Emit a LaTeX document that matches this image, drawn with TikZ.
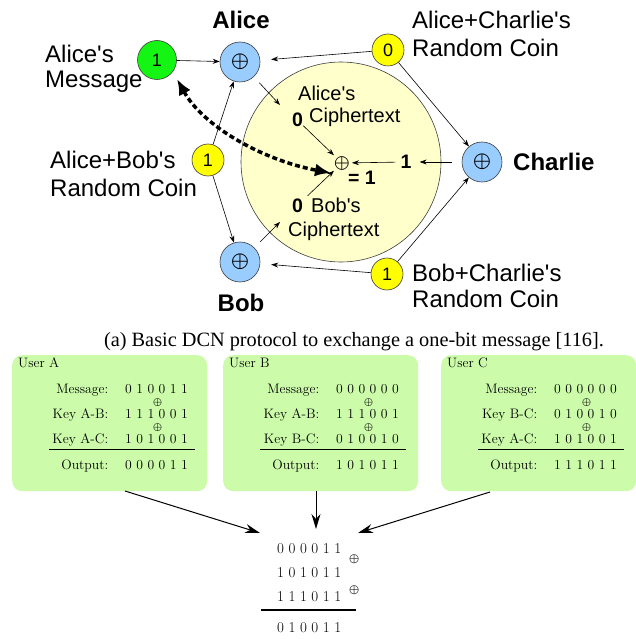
\documentclass[tikz,border=0pt]{standalone}
\usepackage{fontspec}
\usepackage{unicode-math}
\setmathfont{Latin Modern Math}
\usetikzlibrary{arrows.meta}
\newfontfamily\arialf{Liberation Sans}
\newfontfamily\timesf{Liberation Serif}
\definecolor{boxgreen}{RGB}{204,252,170}
\definecolor{nodeblue}{RGB}{153,204,255}
\definecolor{msggreen}{RGB}{20,245,20}
\definecolor{coinyellow}{RGB}{255,255,0}
\definecolor{paleyellow}{RGB}{255,255,204}
\definecolor{edgegray}{RGB}{60,60,60}
\newcommand\userbox[9]{%
  \node[ubox, anchor=north west] (#1) at (#2,355) {};
  \node[btext, anchor=base west] (#1-u) at (#2+6,367) {#3};
  \node[btext, anchor=base east] (#1-l1) at (#2+96.5,393.5) {Message:};
  \node[btext, anchor=base east] (#1-l2) at (#2+96.5,418.5) {#4};
  \node[btext, anchor=base east] (#1-l3) at (#2+96.5,443.5) {#5};
  \node[btext, anchor=base east] (#1-l4) at (#2+96.5,469.5) {Output:};
  \node[btext, anchor=base west] (#1-b1) at (#2+113,393.5) {#6};
  \node[btext, anchor=base west] (#1-b2) at (#2+113,418.5) {#7};
  \node[btext, anchor=base west] (#1-b3) at (#2+113,443.5) {#8};
  \node[btext, anchor=base west] (#1-b4) at (#2+113,469.5) {#9};
  \node[bxor] (#1-x1) at (#2+146,402.5) {$\oplus$};
  \node[bxor] (#1-x2) at (#2+146,427.5) {$\oplus$};
  \draw[line width=1.1pt] (#2+37,449.5) -- (#2+183,449.5);
}
\begin{document}
\begin{tikzpicture}[x=1pt,y=-1pt,
  party/.style={circle,draw=edgegray,line width=0.6pt,fill=nodeblue,minimum size=40pt,inner sep=0pt,font=\fontsize{23}{23}\selectfont},
  coin/.style={circle,draw=edgegray,line width=0.6pt,fill=coinyellow,minimum size=32pt,inner sep=0pt,font=\arialf\fontsize{18}{18}\selectfont},
  msgnode/.style={circle,draw=edgegray,line width=0.6pt,fill=msggreen,minimum size=39pt,inner sep=0pt,font=\arialf\fontsize{18}{18}\selectfont},
  lbl/.style={font=\arialf\fontsize{24}{24}\selectfont, anchor=base west, inner sep=0pt},
  blbl/.style={font=\arialf\bfseries\fontsize{24}{24}\selectfont, inner sep=0pt},
  ilbl/.style={font=\arialf\fontsize{20}{20}\selectfont, anchor=base west, inner sep=0pt},
  ibold/.style={font=\arialf\bfseries\fontsize{19.5}{19.5}\selectfont, inner sep=0pt},
  thinarr/.style={-{Stealth[length=7pt,width=5pt]}, line width=0.6pt},
  bigarr/.style={-{Stealth[length=15pt,width=9pt]}, line width=1pt},
  ubox/.style={fill=boxgreen, rounded corners=10pt, minimum width=195pt, minimum height=136pt, inner sep=0pt},
  btext/.style={font=\fontsize{13.7}{16}\selectfont, inner sep=0pt},
  bxor/.style={font=\fontsize{11.5}{12}\selectfont, inner sep=0pt},
  rtext/.style={font=\fontsize{15}{18}\selectfont, inner sep=0pt, anchor=base west},
]
\useasboundingbox (0,0) rectangle (636,639);

% ---------- top part ----------
\node[circle, draw=edgegray, line width=0.6pt, fill=paleyellow, minimum size=200pt, inner sep=0pt] (big) at (341,162) {};

\node[msgnode] (msg) at (157,60) {1};
\node[party] (alice) at (240,62) {$\oplus$};
\node[party] (charlie) at (482,162) {$\oplus$};
\node[party] (bob) at (240,262) {$\oplus$};
\node[coin] (acc) at (388,50) {0};
\node[coin] (bcc) at (387,274) {1};
\node[coin] (abc) at (208,160) {1};

\node[blbl, anchor=base] (alicel) at (241,29) {Alice};
\node[blbl, anchor=base west] (charliel) at (513,171) {Charlie};
\node[blbl, anchor=base] (bobl) at (241,311) {Bob};

\node[lbl] (msgl1) at (45,63) {Alice's};
\node[lbl] (msgl2) at (45,88) {Message};
\node[lbl] (accl1) at (412,29) {Alice+Charlie's};
\node[lbl] (accl2) at (412,57) {Random Coin};
\node[lbl] (abcl1) at (50,168) {Alice+Bob's};
\node[lbl] (abcl2) at (50,196) {Random Coin};
\node[lbl] (bccl1) at (412,281) {Bob+Charlie's};
\node[lbl] (bccl2) at (412,307) {Random Coin};

\node[ilbl] (act1) at (298,101) {Alice's};
\node[ilbl] (act2) at (309,123) {Ciphertext};
\node[ibold, anchor=base west] (a0) at (292,127) {0};
\node[ilbl] (bct1) at (311,212) {Bob's};
\node[ilbl] (bct2) at (288,236) {Ciphertext};
\node[ibold, anchor=base west] (b0) at (292,212) {0};
\node[font=\fontsize{20}{20}\selectfont, inner sep=0pt] (xo) at (342,163) {$\oplus$};
\node[ibold, anchor=base west] (eq) at (348,184) {= 1};
\node[ibold] (one) at (406,162) {1};

\coordinate (aE) at (280,105);
\coordinate (bE) at (280,222);

\draw[thinarr] (msg) -- (alice);
\draw[thinarr, shorten >=11pt] (acc) -- (alice);
\draw[thinarr] (acc) -- (charlie);
\draw[thinarr] (abc) -- (alice);
\draw[thinarr] (abc) -- (bob);
\draw[thinarr, shorten >=11pt] (bcc) -- (bob);
\draw[thinarr] (bcc) -- (charlie);
\draw[thinarr, shorten <=8pt] (alice) -- (aE);
\draw[thinarr, shorten <=8pt] (bob) -- (bE);
\draw[thinarr, shorten >=1pt] (a0) -- (xo);
\draw[thinarr, shorten <=6pt, shorten >=1pt] (b0) -- (xo);
\draw[thinarr, shorten <=5pt, shorten >=2pt] (one) -- (xo);
\draw[thinarr, shorten <=10pt, shorten >=8pt] (charlie) -- (one);

\coordinate (dA) at (177,79);
\coordinate (dB) at (331,173);
\draw[line width=3.5pt, dash pattern=on 5pt off 3pt,
  {Latex[length=16pt,width=13pt]}-{Latex[length=16pt,width=13pt]}]
  (dA) .. controls (203,126) and (262,160) .. (dB);

\node[font=\timesf\fontsize{20.3}{22}\selectfont, inner sep=0pt, anchor=base] (cap) at (354,346)
  {(a) Basic DCN protocol to exchange a one-bit message [116].};

% ---------- bottom part ----------
\userbox{A}{12}{User A}{Key A-B:}{Key A-C:}{0 1 0 0 1 1}{1 1 1 0 0 1}{1 0 1 0 0 1}{0 0 0 0 1 1}
\userbox{B}{223}{User B}{Key A-B:}{Key B-C:}{0 0 0 0 0 0}{1 1 1 0 0 1}{0 1 0 0 1 0}{1 0 1 0 1 1}
\userbox{C}{441}{User C}{Key B-C:}{Key A-C:}{0 0 0 0 0 0}{0 1 0 0 1 0}{1 0 1 0 0 1}{1 1 1 0 1 1}

\node[rtext] (r1) at (277,553) {0 0 0 0 1 1};
\node[rtext] (r2) at (277,577) {1 0 1 0 1 1};
\node[rtext] (r3) at (277,601) {1 1 1 0 1 1};
\node[rtext] (r4) at (277,632) {0 1 0 0 1 1};
\node[font=\fontsize{13}{13}\selectfont, inner sep=0pt] (rx1) at (355,559) {$\oplus$};
\node[font=\fontsize{13}{13}\selectfont, inner sep=0pt] (rx2) at (355,590) {$\oplus$};
\draw[line width=1.1pt] (261,610) -- (356,610);

\coordinate (aS) at (125,491);
\coordinate (bS) at (316,491);
\coordinate (cS) at (490,492);
\coordinate (aT) at (260,533);
\coordinate (bT) at (316,529);
\coordinate (cT) at (358,533);
\draw[bigarr] (aS) -- (aT);
\draw[bigarr] (bS) -- (bT);
\draw[bigarr] (cS) -- (cT);
\end{tikzpicture}
\end{document}
